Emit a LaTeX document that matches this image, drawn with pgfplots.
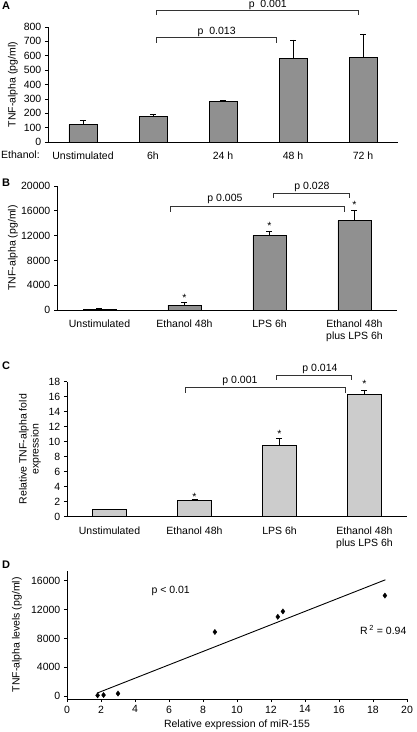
\documentclass[border=0pt]{standalone}
\usepackage{fontspec}
\setmainfont{Liberation Sans}
\usepackage{pgfplots}
\pgfplotsset{compat=1.18}
\definecolor{barA}{RGB}{144,144,144}
\definecolor{barC}{RGB}{204,204,204}
\begin{document}
\fontsize{10.5}{12}\selectfont
\begin{tikzpicture}
\useasboundingbox (0pt,0pt) rectangle (416pt,732pt);
\pgfplotsset{
  every axis/.append style={
    scale only axis,
    axis lines*=left,
    font=\fontsize{10.5}{12}\selectfont,
    /pgf/number format/assume math mode=true,
    /pgf/number format/set thousands separator={},
    scaled y ticks=false,
    tick style={black, line width=0.6pt},
    axis line style={black, line width=0.7pt},
    clip=false,
    tick align=outside,
    major tick length=3pt,
    ylabel style={at={(axis description cs:0,0.5)}, anchor=center},
  },
  catx/.style={
    xtick={0,...,#1}, major x tick style={draw=none},
    extra x ticks={-0.5,...,#1.5}, extra x tick labels={},
    extra x tick style={major tick length=4pt, tick style={black, line width=0.6pt}},
    xticklabel style={align=center, anchor=north, yshift=-3pt},
  },
  errs/.style={error bars/.cd, y dir=plus, y explicit,
    error bar style={line width=0.8pt, black},
    error mark options={rotate=90, mark size=3pt, line width=0.8pt, black}},
}
% ---------------- A ----------------
\begin{axis}[at={(48pt,590pt)}, anchor=south west, width=350pt, height=115pt,
  ybar, bar width=28pt, xmin=-0.5, xmax=4.5, ymin=0, ymax=800,
  ytick={0,100,...,800}, catx=4,
  xticklabels={Unstimulated,6h,24 h,48 h,72 h},
  ylabel={TNF-alpha (pg/ml)}, ylabel style={yshift=35pt}]
\addplot[fill=barA, draw=black, line width=0.8pt, errs] coordinates {
 (0,120) +- (0,30)
 (1,180) +- (0,12)
 (2,280) +- (0,6)
 (3,580) +- (0,130)
 (4,588) +- (0,160)};
\draw[black!80, line width=0.7pt] (axis cs:1.05,883) -- (axis cs:1.05,918) -- (axis cs:3.93,918) -- (axis cs:3.93,883);
\node at (axis cs:2.64,953) {p\ \ 0.001};
\draw[black!80, line width=0.7pt] (axis cs:1.05,689) -- (axis cs:1.05,731) -- (axis cs:2.76,731) -- (axis cs:2.76,689);
\node at (axis cs:1.91,763) {p\ \ 0.013};
\end{axis}
\node[anchor=west, inner sep=0] at (1pt,577pt) {Ethanol:};
\node[anchor=west, inner sep=0, font=\fontsize{11}{12}\selectfont\bfseries] at (2pt,726pt) {A};
% ---------------- B ----------------
\begin{axis}[at={(57pt,422pt)}, anchor=south west, width=340pt, height=124pt,
  ybar, bar width=33pt, xmin=-0.5, xmax=3.5, ymin=0, ymax=20000,
  ytick={0,4000,...,20000}, catx=3,
  xticklabels={Unstimulated,Ethanol 48h,LPS 6h,{Ethanol 48h\\plus LPS 6h}},
  ylabel={TNF-alpha (pg/ml)}, ylabel style={yshift=44pt}]
\addplot[fill=barA, draw=black, line width=0.8pt, errs] coordinates {
 (0,150) +- (0,40)
 (1,800) +- (0,350)
 (2,12000) +- (0,650)
 (3,14400) +- (0,1650)};
\draw[black!80, line width=0.7pt] (axis cs:0.83,15870) -- (axis cs:0.83,16774) -- (axis cs:2.876,16774) -- (axis cs:2.876,15870);
\node at (axis cs:1.476,17900) {p 0.005};
\draw[black!80, line width=0.7pt] (axis cs:2.05,18060) -- (axis cs:2.05,18870) -- (axis cs:2.935,18870) -- (axis cs:2.935,18060);
\node at (axis cs:2.5,19840) {p 0.028};
\node[yshift=-2pt] at (axis cs:1,2260) {*};
\node[yshift=-2pt] at (axis cs:2,13820) {*};
\node[yshift=-2pt] at (axis cs:3,17200) {*};
\end{axis}
\node[anchor=west, inner sep=0, font=\fontsize{11}{12}\selectfont\bfseries] at (2pt,549pt) {B};
% ---------------- C ----------------
\begin{axis}[at={(67pt,215.3pt)}, anchor=south west, width=340pt, height=135pt,
  ybar, bar width=34pt, xmin=-0.5, xmax=3.5, ymin=0, ymax=18,
  ytick={0,2,...,18}, catx=3,
  xticklabels={Unstimulated,Ethanol 48h,LPS 6h,{Ethanol 48h\\plus LPS 6h}},
  ylabel={Relative TNF-alpha fold\\expression}, ylabel style={align=center, yshift=37pt}]
\addplot[fill=barC, draw=black, line width=0.8pt, errs] coordinates {
 (0,1.0) +- (0,0)
 (1,2.2) +- (0,0.15)
 (2,9.45) +- (0,0.95)
 (3,16.3) +- (0,0.55)};
\draw[black!80, line width=0.7pt] (axis cs:0.888,16.5) -- (axis cs:0.888,17.25) -- (axis cs:2.77,17.25) -- (axis cs:2.77,16.5);
\node at (axis cs:1.535,18.13) {p 0.001};
\draw[black!80, line width=0.7pt] (axis cs:1.96,18.23) -- (axis cs:1.96,18.9) -- (axis cs:2.84,18.9) -- (axis cs:2.84,18.23);
\node at (axis cs:2.476,19.7) {p 0.014};
\node[yshift=-2pt] at (axis cs:1,2.9) {*};
\node[yshift=-2pt] at (axis cs:2,11.33) {*};
\node[yshift=-2pt] at (axis cs:3,18.0) {*};
\end{axis}
\node[anchor=west, inner sep=0, font=\fontsize{11}{12}\selectfont\bfseries] at (2pt,366pt) {C};
% ---------------- D ----------------
\begin{axis}[at={(67pt,33pt)}, anchor=south west, width=340pt, height=128.3pt,
  xmin=0, xmax=20, ymin=-400, ymax=17400,
  xtick={0,2,...,20}, ytick={0,4000,...,16000},
  xlabel={Relative expression of miR-155},
  ylabel={TNF-alpha levels (pg/ml)}, ylabel style={yshift=50pt}]
\addplot[only marks, mark=diamond*, mark size=2.6pt, black] coordinates {
 (1.8,100) (2.15,150) (3.0,350) (8.7,8900) (12.4,11000) (12.7,11750) (18.7,13950)};
\addplot[black, line width=0.9pt] coordinates {(1.76,410) (18.73,16140)};
\node at (axis cs:6.1,14616) {p < 0.01};
\node at (axis cs:18.6,9176) {R\,\textsuperscript{2} = 0.94};
\end{axis}
\node[anchor=west, inner sep=0, font=\fontsize{11}{12}\selectfont\bfseries] at (2pt,167pt) {D};
\end{tikzpicture}
\end{document}
